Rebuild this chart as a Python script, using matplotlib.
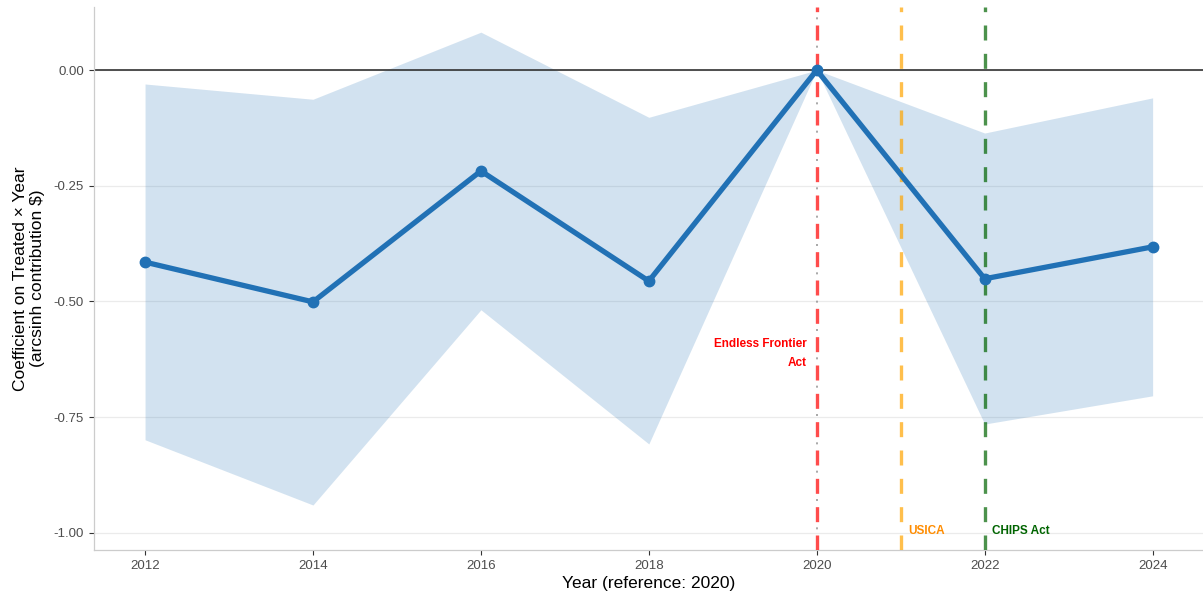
import matplotlib
matplotlib.use("Agg")
import matplotlib.pyplot as plt

years = [2012, 2014, 2016, 2018, 2020, 2022, 2024]
coef = [-0.415, -0.501, -0.218, -0.456, 0.0, -0.451, -0.382]
ci_upper = [-0.030, -0.063, 0.082, -0.102, 0.0, -0.136, -0.060]
ci_lower = [-0.799, -0.940, -0.518, -0.808, 0.0, -0.765, -0.704]

yticks = [0.0, -0.25, -0.5, -0.75, -1.0]
ytick_labels = ["0.00", "-0.25", "-0.50", "-0.75", "-1.00"]
xticks = [2012, 2014, 2016, 2018, 2020, 2022, 2024]

event_years = [2020, 2021, 2022]
event_names = ["Endless Frontier\nAct", "USICA", "CHIPS Act"]
ref_year = 2020

plt.rcParams["font.family"] = ["Liberation Sans", "DejaVu Sans"]

fig = plt.figure(figsize=(12.03, 5.99), dpi=100)
ax = fig.add_axes([0.078, 0.082, 0.922, 0.906])

ax.set_xlim(2011.39, 2024.6)
ax.set_ylim(-1.037, 0.136)

for y in yticks:
    ax.axhline(y, color="#ebebeb", linewidth=0.9, zorder=0)

ax.fill_between(years, ci_lower, ci_upper, color="#2171b5", alpha=0.2, linewidth=0, zorder=1)
ax.axhline(0, color="#333333", linewidth=1.2, zorder=2)

# event lines: dash period 20.4pt, grey reference dot sits in each red gap
vlw = 2.4
ax.axvline(ref_year, color="#999999", linestyle=(4.6, (1.2, 15.8)), linewidth=1.2, zorder=2)

line_colors = ["red", "orange", "darkgreen"]
for yr, c in zip(event_years, line_colors):
    ax.axvline(yr, color=c, alpha=0.7, linestyle=(0, (4.5, 4)), linewidth=vlw, zorder=3)

ax.plot(years, coef, color="#2171b5", linewidth=3.8, marker="o", markersize=7.5, zorder=4)

ax.text(event_years[0] - 0.12, -0.613, event_names[0], color="red", fontsize=8.5,
        fontweight="bold", ha="right", va="center", linespacing=1.8)
ax.text(event_years[1] + 0.09, -0.997, event_names[1], color="darkorange", fontsize=8.5,
        fontweight="bold", ha="left", va="center")
ax.text(event_years[2] + 0.09, -0.997, event_names[2], color="darkgreen", fontsize=8.5,
        fontweight="bold", ha="left", va="center")

ax.set_xticks(xticks)
ax.set_xticklabels([str(x) for x in xticks])
ax.set_yticks(yticks)
ax.set_yticklabels(ytick_labels)
ax.tick_params(colors="#4d4d4d", labelsize=9.5, length=3.5, width=0.8)
ax.tick_params(axis="both", color="#333333")

for s in ["top", "right"]:
    ax.spines[s].set_visible(False)
for s in ["left", "bottom"]:
    ax.spines[s].set_color("#cccccc")
    ax.spines[s].set_linewidth(0.9)

ax.set_xlabel("Year (reference: 2020)", fontsize=12.5, labelpad=3)
ax.set_ylabel("Coefficient on Treated × Year\n(arcsinh contribution \\$)", fontsize=12.5, labelpad=6)

fig.savefig("out.png", dpi=100)
